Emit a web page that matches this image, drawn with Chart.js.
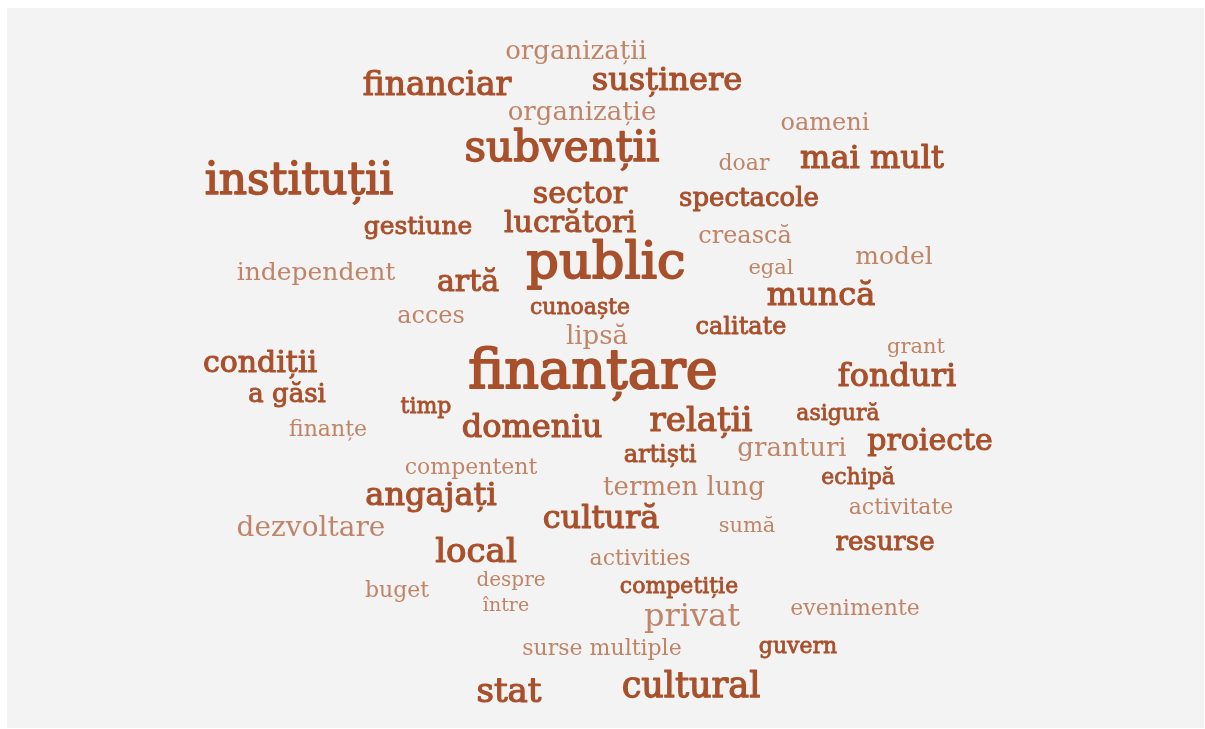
<!DOCTYPE html>
<html>
<head>
<meta charset="utf-8">
<script src="https://cdn.jsdelivr.net/npm/chart.js@4"></script>
<style>
  body { margin: 0; background: #ffffff; }
  #panel { position: absolute; left: 7px; top: 8px; width: 1197px; height: 720px; background: #f3f3f3; }
  #wrap { position: absolute; left: 0; top: 0; width: 1205px; height: 729px; }
</style>
</head>
<body>
<div id="panel"></div>
<div id="wrap"><canvas id="myChart"></canvas></div>
<script>
// words of the cloud, where they sit (x, y in picture units), how big, and tone group (1 = dark, 0 = light)
var words = ["organizații","susținere","financiar","organizație","oameni","subvenții","doar","mai mult",
  "instituții","sector","spectacole","lucrători","gestiune","crească","public","model","independent","egal",
  "artă","muncă","cunoaște","acces","calitate","lipsă","grant","condiții","finanțare","fonduri","a găsi",
  "timp","asigură","relații","domeniu","finanțe","proiecte","granturi","artiști","compentent","echipă",
  "termen lung","angajați","activitate","cultură","dezvoltare","sumă","resurse","local","activities",
  "despre","buget","competiție","între","privat","evenimente","surse multiple","guvern","stat","cultural"];
var posX = [576,667,437,582,825,562,744,872,
  299,580,749,570,418,745,606,894,316,771,
  468,821,580,431,741,597,916,260,593,897,287,
  426,838,701,532,328,930,792,660,471,858,
  684,431,901,601,311,747,885,476,640,
  511,397,679,506,692,855,602,798,509,691];
var posY = [52,82,86,113,124,150,164,160,
  183,195,199,224,227,237,265,257,273,269,
  283,297,308,317,328,337,348,364,374,378,395,
  407,414,422,429,430,442,449,456,468,478,
  488,497,508,520,529,527,543,553,559,
  581,591,587,606,618,609,649,647,693,688];
var weight = [26,32,33,26,24,42,22,32,
  44,30,26,30,25,24,51,25,25,21,
  30,32,22,24,24,26,21,30,54,32,26,
  22,22,34,32,22,30,26,24,22,22,
  26,32,22,32,28,21,26,34,22,
  20,22,22,19,32,22,22,22,34,35];
var tone = [0,1,1,0,0,1,0,1,
  1,1,1,1,1,0,1,0,0,0,
  1,1,1,0,1,0,0,1,1,1,1,
  1,1,1,1,0,1,0,1,0,1,
  0,1,0,1,0,0,1,1,0,
  0,0,1,0,0,0,0,1,1,1];

var points = words.map(function (w, i) { return { x: posX[i], y: posY[i] }; });

var wordPlugin = {
  id: 'words',
  afterDatasetsDraw: function (chart) {
    var c = chart.ctx;
    var xs = chart.scales.x, ys = chart.scales.y;
    c.save();
    c.textAlign = 'center';
    c.textBaseline = 'middle';
    c.lineJoin = 'round';
    words.forEach(function (w, i) {
      var size = weight[i];
      var px = xs.getPixelForValue(posX[i]), py = ys.getPixelForValue(posY[i]);
      c.font = size + 'px "DejaVu Serif"';
      if (tone[i] === 1) {
        // dark words are a medium weight: thicken the regular face a little
        c.fillStyle = '#a8502b';
        c.strokeStyle = '#a8502b';
        c.lineWidth = size / 28;
        c.strokeText(w, px, py);
      } else {
        c.fillStyle = '#c08468';
      }
      c.fillText(w, px, py);
    });
    c.restore();
  }
};

var ctx = document.getElementById("myChart");
var myChart = new Chart(ctx, {
  type: 'scatter',
  data: {
    datasets: [{
      label: 'words',
      data: points,
      pointRadius: 0,
      pointHoverRadius: 0
    }]
  },
  options: {
    responsive: true,
    maintainAspectRatio: false,
    animation: false,
    layout: { padding: 0 },
    plugins: { legend: { display: false }, tooltip: { enabled: false } },
    scales: {
      x: { type: 'linear', min: 0, max: 1205, display: false },
      y: { type: 'linear', min: 0, max: 729, reverse: true, display: false }
    }
  },
  plugins: [wordPlugin]
});
</script>
</body>
</html>
